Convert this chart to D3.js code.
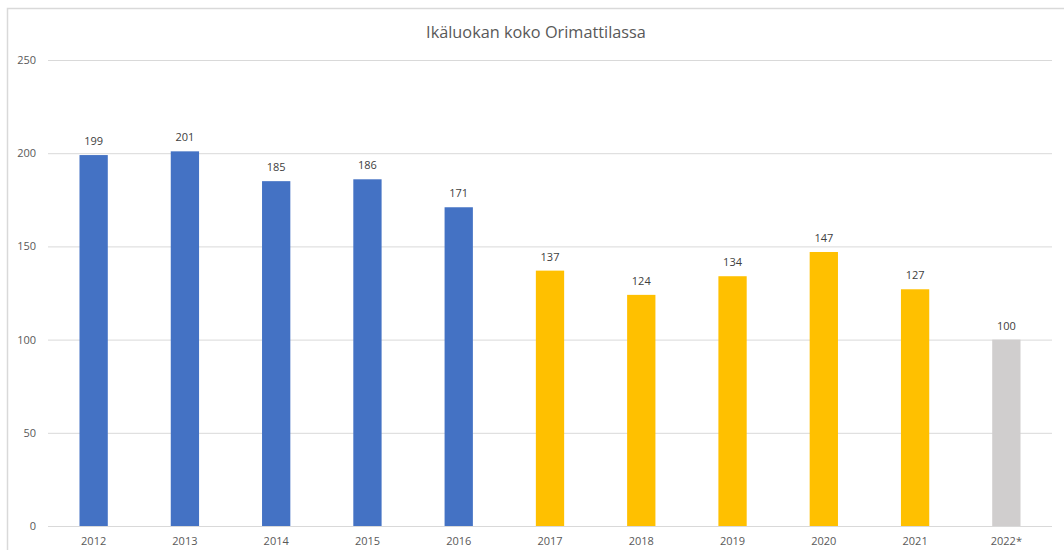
<!DOCTYPE html>
<html><head><meta charset="utf-8">
<script src="https://cdn.jsdelivr.net/npm/d3@7"></script>
<style>body{margin:0;background:#fff}svg{display:block}</style>
</head><body><svg id="c" width="1064" height="550"></svg>
<script>
const title = "Ikäluokan koko Orimattilassa";
const categories = ["2012","2013","2014","2015","2016","2017","2018","2019","2020","2021","2022*"];
const values = [199,201,185,186,171,137,124,134,147,127,100];
const groups = ["a","a","a","a","a","b","b","b","b","b","c"];
const yTicks = [0,50,100,150,200,250];
const colors = {a:"#4472C4", b:"#FFC000", c:"#D0CECE"};

const svg = d3.select("#c");
const font = "'Open Sans', 'Liberation Sans', sans-serif";
svg.append("rect").attr("x",7.5).attr("y",8.5).attr("width",1070).attr("height",560)
  .attr("fill","none").attr("stroke","#D9D9D9").attr("stroke-width",1.5);

const x = d3.scaleBand().domain(categories).range([48,1052]).paddingInner(0.69).paddingOuter(0.345);
const y = d3.scaleLinear().domain([0,250]).range([526,60]);

svg.append("text").attr("x",536).attr("y",38).attr("text-anchor","middle")
  .attr("font-family",font).attr("font-size",16.3).attr("fill","#595959").text(title);

const g = svg.append("g");
g.selectAll("line.grid").data(yTicks).join("line").attr("class","grid")
  .attr("x1",48).attr("x2",1052).attr("y1",d=>y(d)+0.5).attr("y2",d=>y(d)+0.5)
  .attr("stroke","#D9D9D9").attr("stroke-width",1);

const yAxis = d3.axisLeft(y).tickValues(yTicks).tickSize(0).tickPadding(0);
const ya = svg.append("g").attr("transform","translate(36,0)").call(yAxis);
ya.select(".domain").remove();
ya.selectAll("text").attr("font-family",font).attr("font-size",11).attr("fill","#595959");

const xAxis = d3.axisBottom(x).tickSize(0).tickPadding(0);
const xa = svg.append("g").attr("transform","translate(0,537)").call(xAxis);
xa.select(".domain").remove();
xa.selectAll("text").attr("font-family",font).attr("font-size",11).attr("fill","#595959").attr("dy","0.71em");

const data = categories.map((c,i)=>({c,v:values[i],g:groups[i]}));
svg.selectAll("rect.bar").data(data).join("rect").attr("class","bar")
  .attr("x",d=>x(d.c)).attr("width",x.bandwidth())
  .attr("y",d=>y(d.v)).attr("height",d=>y(0)-y(d.v))
  .attr("fill",d=>colors[d.g]);

svg.selectAll("text.lbl").data(data).join("text").attr("class","lbl")
  .attr("x",d=>x(d.c)+x.bandwidth()/2).attr("y",d=>y(d.v)-10)
  .attr("text-anchor","middle").attr("font-family",font).attr("font-size",11)
  .attr("fill","#404040").text(d=>d.v);
</script></body></html>
